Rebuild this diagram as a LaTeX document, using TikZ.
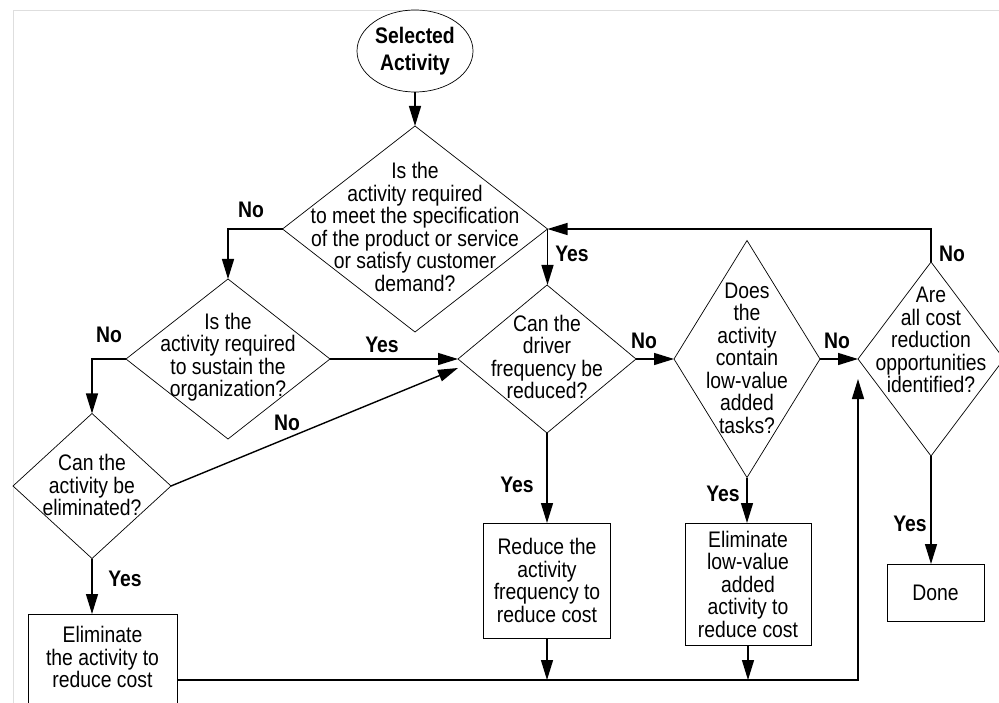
\documentclass[tikz,border=0pt]{standalone}
\usepackage{fontspec}
\newfontfamily\chartfont[FakeStretch=0.86]{Liberation Sans}
\usetikzlibrary{shapes.geometric,arrows.meta,positioning,calc}
\definecolor{framegray}{RGB}{222,222,222}
\newcommand{\pxu}{0.025cm}
\tikzset{
  dia/.style={diamond, draw, line width=0.5pt, inner sep=0pt, outer sep=0pt},
  txt/.style={align=center, inner sep=0pt, font=\chartfont\fontsize{16}{16}\selectfont},
  box/.style={rectangle, draw, line width=0.5pt, inner sep=0pt, outer sep=0pt, txt},
  lab/.style={inner sep=0pt, font=\chartfont\bfseries\fontsize{16}{16}\selectfont},
  arr/.style={line width=1pt, -{Triangle[length=0.5cm, width=0.3cm]}}
}

\begin{document}
\begin{tikzpicture}[x=\pxu, y=-\pxu]
\clip (0,0) rectangle (999,703);
% frame
\draw[framegray, line width=0.6pt] (999,10) -- (13,10) -- (13,703);
% start
\node[ellipse, draw, line width=0.5pt, inner sep=0pt, minimum width=116*\pxu, minimum height=82*\pxu, align=center, lab] (sel) at (415,51) {Selected\\[0.1cm]Activity};
% questions
\node[dia, minimum width=265*\pxu, minimum height=206*\pxu] (q1) at (415,229) {};
\node[txt] (q1t) at (415,227) {Is the\\activity required\\to meet the specification\\of the product or service\\or satisfy customer\\demand?};
\node[dia, minimum width=204*\pxu, minimum height=160*\pxu] (q2) at (228,359) {};
\node[txt] (q2t) at (228,357) {Is the\\activity required\\to sustain the\\organization?};
\node[dia, minimum width=158*\pxu, minimum height=145*\pxu] (q3) at (92,486) {};
\node[txt] (q3t) at (92,485) {Can the\\activity be\\eliminated?};
\node[dia, minimum width=178*\pxu, minimum height=148*\pxu] (q4) at (547,359) {};
\node[txt] (q4t) at (547,357) {Can the\\driver\\frequency be\\reduced?};
\node[dia, minimum width=146*\pxu, minimum height=237*\pxu] (q5) at (747,359) {};
\node[txt] (q5t) at (747,358) {Does\\the\\activity\\contain\\low-value\\added\\tasks?};
\node[dia, minimum width=146*\pxu, minimum height=194*\pxu] (q6) at (931,359) {};
\node[txt] (q6t) at (931,340) {Are\\all cost\\reduction\\opportunities\\identified?};
% actions
\node[box, minimum width=149*\pxu, minimum height=132*\pxu, anchor=north] (e1) at (102.5,614) {};
\node[txt] (e1t) at (102.5,657) {Eliminate\\the activity to\\reduce cost};
\node[box, minimum width=127*\pxu, minimum height=115*\pxu] (r1) at (547,580.5) {Reduce the\\activity\\frequency to\\reduce cost};
\node[box, minimum width=126*\pxu, minimum height=122*\pxu] (e2) at (748,584) {Eliminate\\low-value\\added\\activity to\\reduce cost};
\node[box, minimum width=97*\pxu, minimum height=57*\pxu] (done) at (935.5,592.5) {Done};
% connectors
\draw[arr] (sel.south) -- (q1.north);
\draw[arr] (q1.west) -| (q2.north);
\draw[arr] (q2.west) -| (q3.north);
\draw[arr] (q3.south) -- (q3.south |- e1.north);
\draw[arr] (q2.east) -- (q4.west);
\draw[arr] (q3.east) -- ($(q4.west)+(0,9)$);
\draw[arr] (q1.east) -- (q1.east |- q4.north);
\draw[arr] (q4.east) -- (q5.west);
\draw[arr] (q5.east) -- (q6.west);
\draw[arr] (q6.north) |- (q1.east);
\draw[arr] (q4.south) -- (r1.north);
\draw[arr] (q5.south) -- (q5.south |- e2.north);
\draw[arr] (q6.south) -- (q6.south |- done.north);
\coordinate (back) at ($(q6.west)+(0,20)$);
\draw[arr] (e1.east) -| (back);
\foreach \b in {r1,e2}
    \draw[arr] (\b.south) -- (\b.south |- e1.east);
% answers
\node[lab] (no1) at (251,210) {No};
\node[lab] (no2) at (109,335) {No};
\node[lab] (yes1) at (382,345) {Yes};
\node[lab] (no3) at (287,423) {No};
\node[lab] (yes2) at (125,579) {Yes};
\node[lab] (yes3) at (572,254) {Yes};
\node[lab] (no4) at (952,254) {No};
\node[lab] (no5) at (644,341) {No};
\node[lab] (no6) at (837,341) {No};
\node[lab] (yes4) at (517,485) {Yes};
\node[lab] (yes5) at (723,494) {Yes};
\node[lab] (yes6) at (910,524) {Yes};
\end{tikzpicture}
\end{document}
